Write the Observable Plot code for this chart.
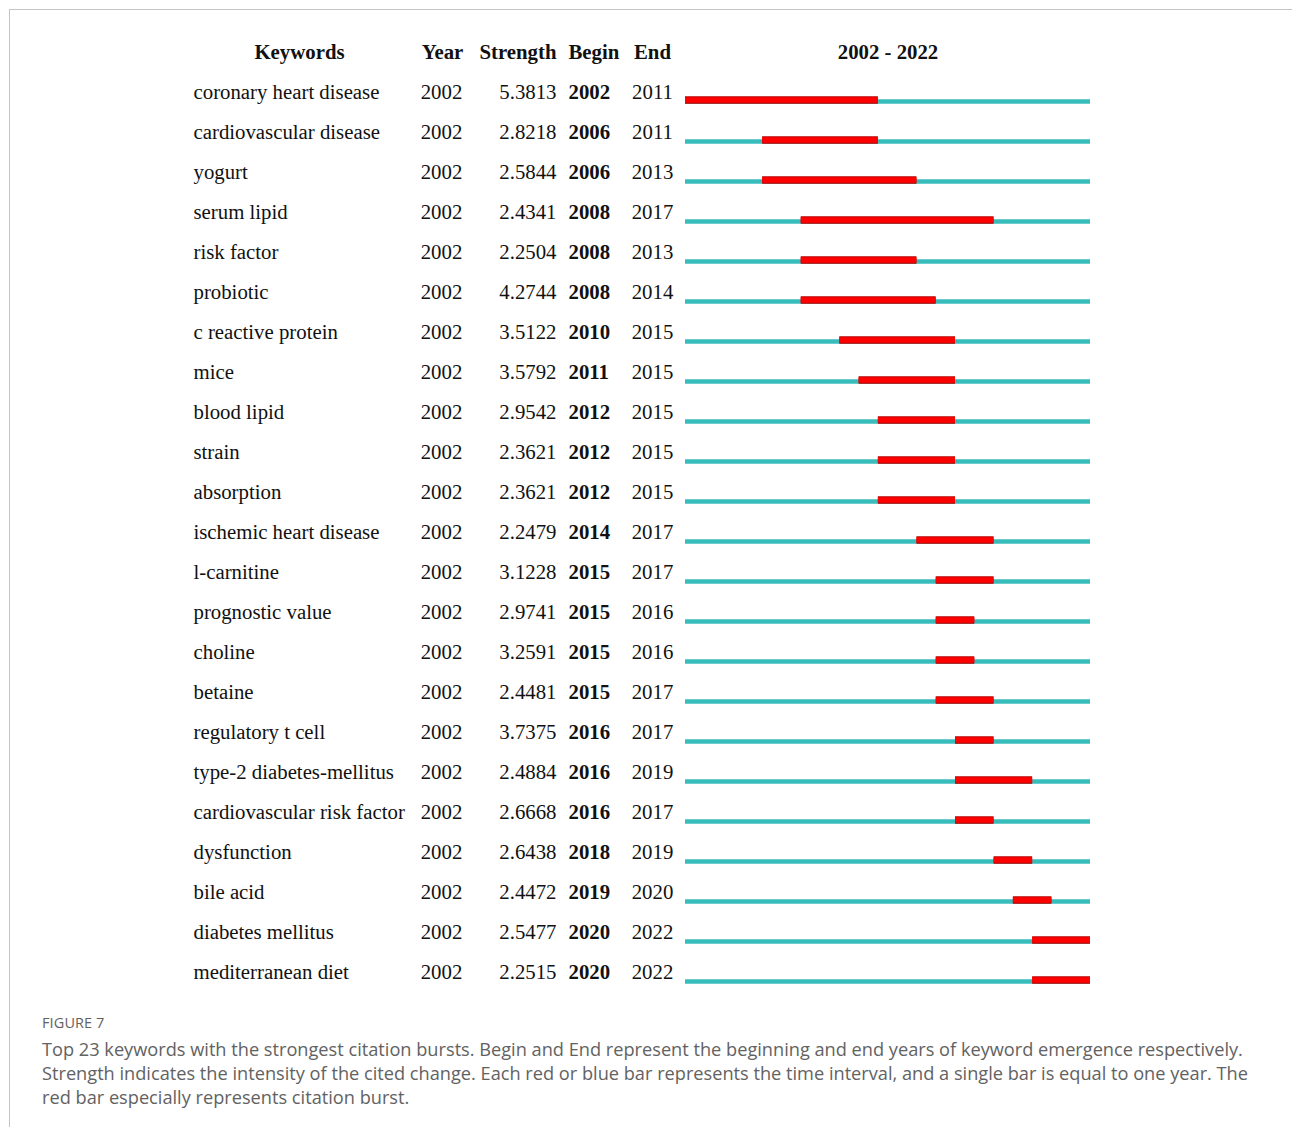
<!DOCTYPE html>
<html>
<head>
<meta charset="utf-8">
<script src="https://cdn.jsdelivr.net/npm/d3@7"></script>
<script src="https://cdn.jsdelivr.net/npm/@observablehq/plot@0.6"></script>
<style>
  html, body { margin: 0; padding: 0; background: #fff; }
  body { width: 1292px; height: 1127px; position: relative; overflow: hidden; }
  #frameTop { position: absolute; left: 9px; top: 9px; width: 1283px; height: 0; border-top: 1.5px solid #c4c4c4; }
  #frameLeft { position: absolute; left: 9px; top: 9px; width: 0; height: 1118px; border-left: 1.5px solid #c4c4c4; }
  #chart { position: absolute; left: 0; top: 0; }
  #caption { position: absolute; left: 42px; top: 1013px; font-family: "Open Sans", Lato, sans-serif; color: #626262; }
  #caption .fig { font-size: 14.5px; letter-spacing: 0.1px; line-height: 20px; margin-bottom: 4px; }
  #caption .line { font-size: 18.2px; line-height: 24px; white-space: nowrap; font-weight: 400; }
</style>
</head>
<body>
<div id="frameTop"></div>
<div id="frameLeft"></div>
<div id="chart"></div>
<div id="caption">
  <div class="fig">FIGURE 7</div>
  <div class="line">Top 23 keywords with the strongest citation bursts. Begin and End represent the beginning and end years of keyword emergence respectively.</div>
  <div class="line">Strength indicates the intensity of the cited change. Each red or blue bar represents the time interval, and a single bar is equal to one year. The</div>
  <div class="line">red bar especially represents citation burst.</div>
</div>
<script>
// ---- data ----
const keywords = [
  "coronary heart disease", "cardiovascular disease", "yogurt", "serum lipid", "risk factor",
  "probiotic", "c reactive protein", "mice", "blood lipid", "strain", "absorption",
  "ischemic heart disease", "l-carnitine", "prognostic value", "choline", "betaine",
  "regulatory t cell", "type-2 diabetes-mellitus", "cardiovascular risk factor",
  "dysfunction", "bile acid", "diabetes mellitus", "mediterranean diet"
];
const years = [2002, 2002, 2002, 2002, 2002, 2002, 2002, 2002, 2002, 2002, 2002, 2002,
  2002, 2002, 2002, 2002, 2002, 2002, 2002, 2002, 2002, 2002, 2002];
const strengths = [5.3813, 2.8218, 2.5844, 2.4341, 2.2504, 4.2744, 3.5122, 3.5792, 2.9542,
  2.3621, 2.3621, 2.2479, 3.1228, 2.9741, 3.2591, 2.4481, 3.7375, 2.4884, 2.6668, 2.6438,
  2.4472, 2.5477, 2.2515];
const begins = [2002, 2006, 2006, 2008, 2008, 2008, 2010, 2011, 2012, 2012, 2012, 2014,
  2015, 2015, 2015, 2015, 2016, 2016, 2016, 2018, 2019, 2020, 2020];
const ends = [2011, 2011, 2013, 2017, 2013, 2014, 2015, 2015, 2015, 2015, 2015, 2017,
  2017, 2016, 2016, 2017, 2017, 2019, 2017, 2019, 2020, 2022, 2022];
const rangeStart = 2002;
const rangeEnd = 2022;
const headers = ["Keywords", "Year", "Strength", "Begin", "End", "2002 - 2022"];

const rows = keywords.map((k, i) => ({
  keyword: k, year: years[i], strength: strengths[i], begin: begins[i], end: ends[i]
}));

// ---- layout (offsets from the timeline's left edge) ----
const FONT = "Liberation Serif, Times New Roman, serif";
const FS = 20.8;
const columns = [
  {field: "keyword", header: headers[0], dx: -492, anchor: "start", hdx: -386, hanchor: "middle", weight: "normal"},
  {field: "year", header: headers[1], dx: -244, anchor: "middle", hdx: -243, hanchor: "middle", weight: "normal"},
  {field: "strength", header: headers[2], dx: -129, anchor: "end", hdx: -129, hanchor: "end", weight: "normal", fmt: d3.format(".4f")},
  {field: "begin", header: headers[3], dx: -117, anchor: "start", hdx: -117, hanchor: "start", weight: "bold"},
  {field: "end", header: headers[4], dx: -33, anchor: "middle", hdx: -33, hanchor: "middle", weight: "normal"}
];
const textDy = -3;
const headerDy = -42.5;

const marks = [
  // full-range teal line
  Plot.ruleY(rows, {
    y: "keyword", x1: () => rangeStart, x2: () => rangeEnd + 1,
    stroke: "#38bcbc", strokeWidth: 4.3
  }),
  // burst (red)
  Plot.ruleY(rows, {
    y: "keyword", x1: "begin", x2: d => d.end + 1,
    stroke: "#b80000", strokeWidth: 7.3, dy: -1.5
  }),
  Plot.ruleY(rows, {
    y: "keyword", x1: "begin", x2: d => d.end + 1,
    stroke: "#ff0000", strokeWidth: 5.6, dy: -1.5
  })
];

for (const c of columns) {
  marks.push(Plot.text(rows, {
    y: "keyword",
    text: c.fmt ? d => c.fmt(d[c.field]) : d => String(d[c.field]),
    frameAnchor: "left", dx: c.dx, dy: textDy,
    textAnchor: c.anchor, lineAnchor: "bottom",
    fontFamily: FONT, fontSize: FS, fontWeight: c.weight, fill: "#111"
  }));
  marks.push(Plot.text([c.header], {
    text: d => d, frameAnchor: "top-left", dx: c.hdx, dy: headerDy,
    textAnchor: c.hanchor, lineAnchor: "bottom",
    fontFamily: FONT, fontSize: FS, fontWeight: "bold", fill: "#111"
  }));
}
marks.push(Plot.text([headers[5]], {
  text: d => d, frameAnchor: "top", dy: headerDy,
  textAnchor: "middle", lineAnchor: "bottom",
  fontFamily: FONT, fontSize: FS, fontWeight: "bold", fill: "#111"
}));

const chart = Plot.plot({
  width: 1292,
  height: 1000,
  marginLeft: 685,
  marginRight: 202,
  marginTop: 100.5,
  marginBottom: 17.7,
  x: {domain: [rangeStart, rangeEnd + 1], axis: null},
  y: {type: "point", domain: keywords, padding: 0, axis: null},
  style: {background: "transparent", overflow: "visible"},
  marks
});
document.getElementById("chart").append(chart);
</script>
</body>
</html>
